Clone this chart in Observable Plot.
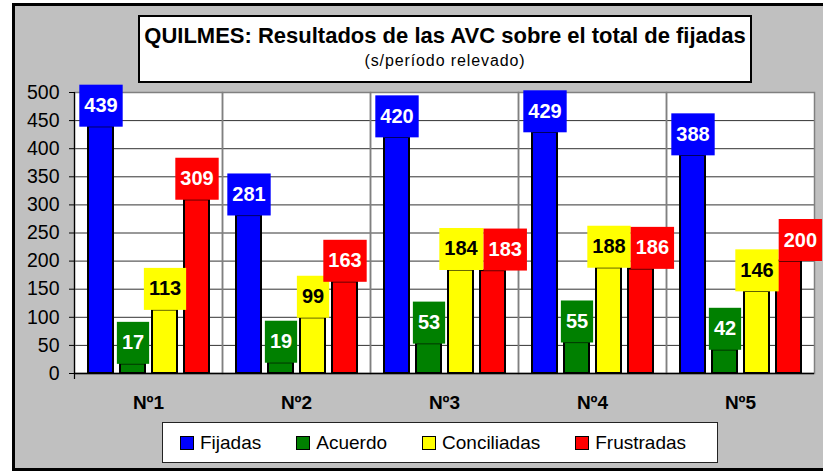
<!DOCTYPE html>
<html>
<head>
<meta charset="utf-8">
<script src="https://cdn.jsdelivr.net/npm/d3@7"></script>
<script src="https://cdn.jsdelivr.net/npm/@observablehq/plot@0.6"></script>
<style>
  html, body { margin: 0; padding: 0; background: #fff; }
  body { font-family: "Liberation Sans", Arial, sans-serif; }
  #wrap { position: relative; width: 823px; height: 471px; overflow: hidden; }
  #bg { position: absolute; left: 12px; top: 3px; width: 830px; height: 468px; box-sizing: border-box;
        border: 3px solid #000; background: #c0c0c0; }
  #chart { position: absolute; left: 0; top: 0; }
  #title { position: absolute; left: 138px; top: 15px; width: 614px; height: 68px; box-sizing: border-box;
           border: 2px solid #000; background: #fff; }
  #title .t { position: absolute; left: 0; right: 0; top: 6px; text-align: center; font-weight: bold;
              font-size: 22px; line-height: 25px; color: #000; }
  #title .s { position: absolute; left: 0; right: 0; top: 35px; text-align: center;
              font-size: 16px; line-height: 18px; letter-spacing: 0.9px; color: #000; }
  #legend { position: absolute; left: 162px; top: 422px; width: 556px; height: 41px; box-sizing: border-box;
            border: 1px solid #222; background: #fff; display: flex; align-items: center; padding-left: 17px; gap: 35px; }
  #legend .item { display: flex; align-items: center; font-size: 19px; line-height: 22px; color: #000; }
  #legend .sw { width: 12px; height: 12px; border: 1px solid #000; margin-right: 6px; margin-top: 1px; }
</style>
</head>
<body>
<div id="wrap">
  <div id="bg"></div>
  <div id="chart"></div>
  <div id="title">
    <div class="t">QUILMES: Resultados de las AVC sobre el total de fijadas</div>
    <div class="s">(s/período relevado)</div>
  </div>
  <div id="legend"></div>
</div>
<script>
const categories = ["Nº1", "Nº2", "Nº3", "Nº4", "Nº5"];
const series = ["Fijadas", "Acuerdo", "Conciliadas", "Frustradas"];
const fijadas = [439, 281, 420, 429, 388];
const acuerdo = [17, 19, 53, 55, 42];
const conciliadas = [113, 99, 184, 188, 146];
const frustradas = [309, 163, 183, 186, 200];
const seriesColors = ["#0000ff", "#008000", "#ffff00", "#ff0000"];
const labelTextColors = ["#ffffff", "#ffffff", "#000000", "#ffffff"];
const yTicks = [0, 50, 100, 150, 200, 250, 300, 350, 400, 450, 500];

const seriesValues = [fijadas, acuerdo, conciliadas, frustradas];
const data = categories.flatMap((c, i) =>
  series.map((s, j) => ({cat: c, series: s, value: seriesValues[j][i]}))
);
const colorOf = s => seriesColors[series.indexOf(s)];
const textColorOf = s => labelTextColors[series.indexOf(s)];

const baseMarks = [
  Plot.frame({fill: "#ffffff"}),
  Plot.gridY(yTicks, {stroke: "#333", strokeOpacity: 1}),
  Plot.frame({stroke: "#808080", strokeWidth: 1.5}),
  Plot.ruleY([0], {stroke: "#000", strokeWidth: 1.5})
];
let axisLine = [];
try {
  axisLine = [Plot.frame({anchor: "left", stroke: "#000", strokeWidth: 1.2, insetBottom: -5, fx: [categories[0]]})];
} catch (e) { axisLine = []; }

const otherMarks = [
  Plot.axisY(yTicks, {tickSize: 5, tickPadding: 10, fontSize: 19.5, label: null}),
  Plot.axisFx({anchor: "bottom", tickSize: 0, tickPadding: 22, fontSize: 19, fontWeight: "bold", label: null}),
  Plot.barY(data, {fx: "cat", x: "series", y: "value", fill: d => colorOf(d.series), stroke: "#000", strokeWidth: 2}),
  Plot.text(data, {fx: "cat", x: "series", y: "value", text: d => String(d.value), dy: -21,
    fill: d => textColorOf(d.series), fontSize: 20, fontWeight: "bold",
    ariaLabel: d => "label " + d.series})
];

function build(extra) {
  return Plot.plot({
    width: 823,
    height: 471,
    marginLeft: 73,
    marginRight: 9,
    marginTop: 92,
    marginBottom: 98,
    style: {background: "transparent", fontFamily: "'Liberation Sans', Arial, sans-serif", color: "#000", overflow: "visible"},
    fx: {domain: categories, padding: 0, label: null},
    x: {domain: series, paddingInner: 0.23, paddingOuter: 0.39, axis: null},
    y: {domain: [0, 500], label: null},
    color: {type: "identity"},
    marks: [...baseMarks, ...extra, ...otherMarks]
  });
}
let chart;
try { chart = build(axisLine); } catch (e) { chart = build([]); }
document.getElementById("chart").appendChild(chart);

// label boxes behind value labels (sized from each label's own text box)
const labelTexts = [];
chart.querySelectorAll('[aria-label^="label "]').forEach(el => {
  if (el.tagName.toLowerCase() === "text") labelTexts.push(el);
  else el.querySelectorAll("text").forEach(t => labelTexts.push(t));
});
function parseTranslate(t) {
  const m = /translate\(\s*([-\d.e]+)[\s,]+([-\d.e]+)\s*\)/.exec(t.getAttribute("transform") || "");
  return m ? [+m[1], +m[2]] : [0, 0];
}
const boxes = labelTexts.map(t => {
  const s = (t.getAttribute("aria-label") || "").replace("label ", "");
  const bb = t.getBBox();
  const cy = bb.y + bb.height / 2 + 0.5;
  const r = document.createElementNS("http://www.w3.org/2000/svg", "rect");
  const tr = t.getAttribute("transform");
  if (tr) r.setAttribute("transform", tr);
  r.setAttribute("x", bb.x - 5);
  r.setAttribute("y", cy - 21);
  r.setAttribute("width", bb.width + 10);
  r.setAttribute("height", 42);
  r.setAttribute("fill", series.includes(s) ? colorOf(s) : "#888");
  t.parentNode.insertBefore(r, t);
  const [tx, ty] = parseTranslate(t);
  return {t, r, tr: tr || "", parent: t.parentNode, x0: tx + bb.x - 5, x1: tx + bb.x + bb.width + 5, y0: ty + cy - 21, y1: ty + cy + 21};
});
// nudge a label box right when it collides noticeably with the previous one in its group
for (let k = 1; k < boxes.length; k++) {
  const a = boxes[k - 1], b = boxes[k];
  if (a.parent !== b.parent) continue;
  const ox = a.x1 - b.x0, oy = Math.min(a.y1, b.y1) - Math.max(a.y0, b.y0);
  if (ox > 6 && oy > 0) {
    b.t.setAttribute("transform", `translate(${ox},0) ${b.tr}`);
    b.r.setAttribute("transform", `translate(${ox},0) ${b.tr}`);
    b.x0 += ox; b.x1 += ox;
  }
}

// legend
const legend = document.getElementById("legend");
series.forEach((s, j) => {
  const item = document.createElement("div");
  item.className = "item";
  const sw = document.createElement("div");
  sw.className = "sw";
  sw.style.background = seriesColors[j];
  const lab = document.createElement("span");
  lab.textContent = s;
  item.appendChild(sw);
  item.appendChild(lab);
  legend.appendChild(item);
});
</script>
</body>
</html>
